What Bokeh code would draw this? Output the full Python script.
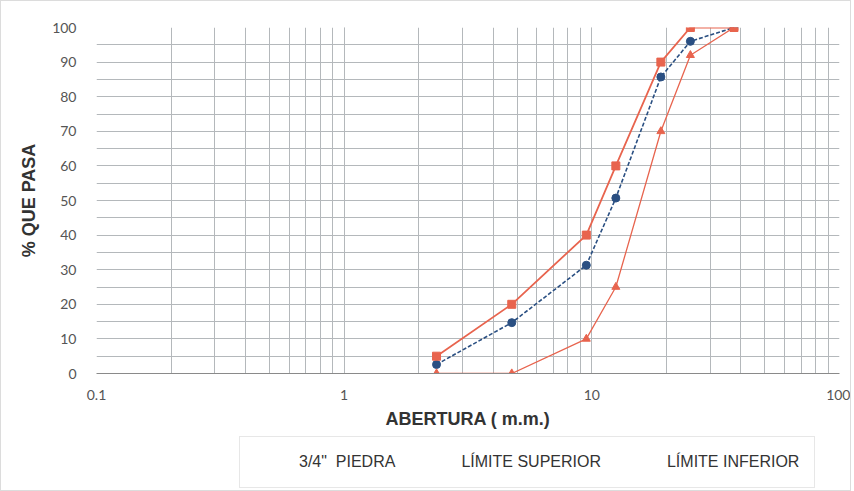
from bokeh.plotting import figure
from bokeh.layouts import column
from bokeh.models import (LogTicker, FixedTicker, Legend, LegendItem, Range1d,
                          CustomJSTickFormatter)
from bokeh.embed import file_html
from bokeh.resources import INLINE

# ---- data ----
aberturas = [2.36, 4.75, 9.5, 12.5, 19.0, 25.0, 37.5]
piedra = [2.6, 14.7, 31.3, 50.7, 85.7, 96.0, 100.0]
lim_superior = [5, 20, 40, 60, 90, 100, 100]
lim_inferior = [0, 0, 10, 25, 70, 92, 100]
series_names = ['3/4"  PIEDRA', "LÍMITE SUPERIOR", "LÍMITE INFERIOR"]
y_ticks = [0, 10, 20, 30, 40, 50, 60, 70, 80, 90, 100]
y_minor = [5, 15, 25, 35, 45, 55, 65, 75, 85, 95]

BLUE = "#2a4f82"
RED = "#e8644e"
GRID = "#b4b8bb"

p = figure(width=849, height=430, x_axis_type="log",
           x_range=Range1d(0.1, 100), y_range=Range1d(0, 100),
           output_backend="svg", toolbar_location=None,
           min_border_left=95, min_border_top=26, min_border_right=11,
           min_border_bottom=55, background_fill_color="white",
           border_fill_color="white")
p.outline_line_color = None

# axes
xa = p.xaxis[0]
xa.ticker = LogTicker(desired_num_ticks=4, num_minor_ticks=10)
xa.formatter = CustomJSTickFormatter(code="return String(tick);")
xa.axis_label = "ABERTURA ( m.m.)"
ya = p.yaxis[0]
ya.ticker = FixedTicker(ticks=y_ticks, minor_ticks=y_minor)
ya.axis_label = "% QUE PASA"

for ax in (xa, ya):
    ax.major_tick_line_color = None
    ax.minor_tick_line_color = None
    ax.major_label_text_font = "Lato"
    ax.major_label_text_font_size = "14px"
    ax.major_label_text_color = "#555555"
    ax.axis_label_text_font = "Liberation Sans"
    ax.axis_label_text_font_style = "bold"
    ax.axis_label_text_font_size = "18px"
    ax.axis_label_text_color = "#333333"
xa.axis_line_color = "#8a8a8a"
ya.axis_line_color = None
xa.major_label_standoff = 10
xa.axis_label_standoff = 6
ya.major_label_standoff = 14
ya.axis_label_standoff = 10

p.xgrid.grid_line_color = GRID
p.xgrid.minor_grid_line_color = GRID
p.ygrid.grid_line_color = GRID
p.ygrid.minor_grid_line_color = GRID
for g in (p.xgrid, p.ygrid):
    g.grid_line_width = 1
    g.minor_grid_line_width = 1

# series
p.line(aberturas, piedra, line_color=BLUE, line_width=1.6, line_dash="4 2")
p.scatter(aberturas, piedra, marker="circle", size=8, fill_color=BLUE, line_color=BLUE)
p.line(aberturas, lim_superior, line_color=RED, line_width=1.8)
p.scatter(aberturas, lim_superior, marker="square", size=8, fill_color=RED, line_color=RED)
p.line(aberturas, lim_inferior, line_color=RED, line_width=1.3)
p.scatter(aberturas, lim_inferior, marker="triangle", size=8, fill_color=RED, line_color=RED)

# legend strip below the chart
p2 = figure(width=849, height=59, x_range=Range1d(0, 1), y_range=Range1d(0, 1),
            output_backend="svg", toolbar_location=None,
            x_axis_location=None, y_axis_location=None,
            min_border_left=0, min_border_right=0, min_border_top=0,
            min_border_bottom=0, background_fill_color="white",
            border_fill_color="white")
p2.outline_line_color = None
p2.grid.visible = False

l1 = p2.line([], [], line_color=BLUE, line_width=1.6, line_dash="4 2")
m1 = p2.scatter([], [], marker="circle", size=8, fill_color=BLUE, line_color=BLUE)
l2 = p2.line([], [], line_color=RED, line_width=1.8)
m2 = p2.scatter([], [], marker="square", size=8, fill_color=RED, line_color=RED)
l3 = p2.line([], [], line_color=RED, line_width=1.3)
m3 = p2.scatter([], [], marker="triangle", size=8, fill_color=RED, line_color=RED)

legend = Legend(items=[
    LegendItem(label=series_names[0], renderers=[l1, m1]),
    LegendItem(label=series_names[1], renderers=[l2, m2]),
    LegendItem(label=series_names[2], renderers=[l3, m3]),
], orientation="horizontal", location=(143, 2))
legend.label_text_font = "'Liberation Sans Narrow', 'Liberation Sans'"
legend.label_text_font_size = "16px"
legend.label_text_color = "#333333"
legend.border_line_color = "#cfcfcf"
legend.background_fill_alpha = 1
legend.glyph_width = 40
legend.spacing = 22
legend.padding = 15
legend.margin = 0
legend.label_standoff = 4
p2.add_layout(legend, "center")

layout = column(p, p2, spacing=0, styles={"border": "1px solid #dcdcdc"})

open("out.html", "w").write(file_html(layout, INLINE))
